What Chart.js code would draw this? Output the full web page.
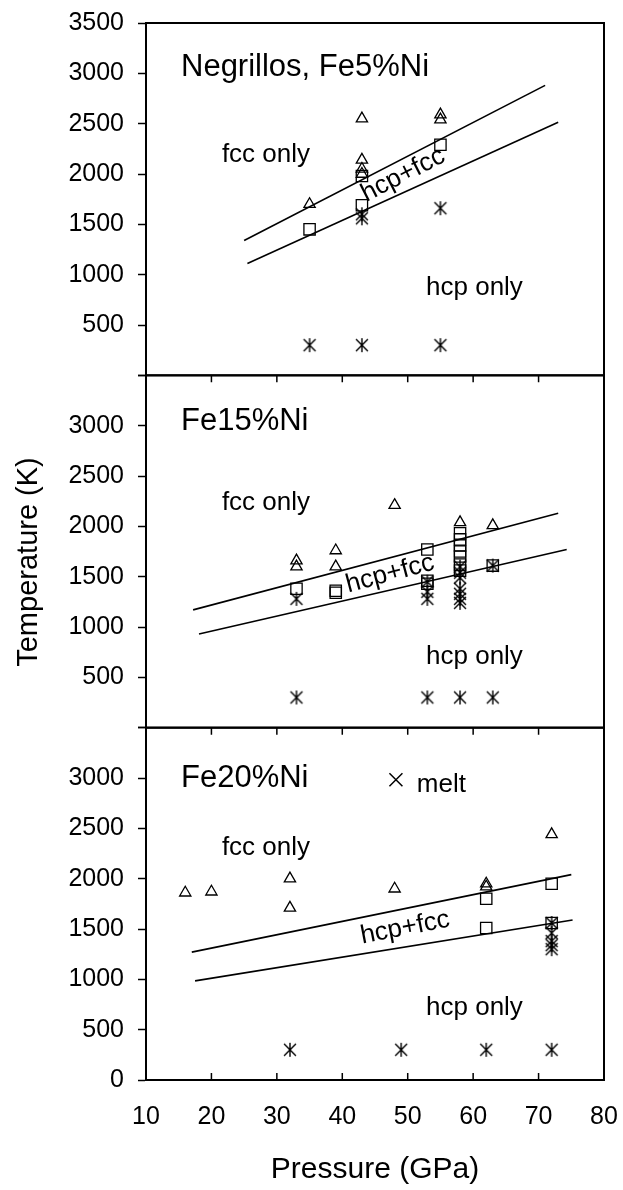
<!DOCTYPE html>
<html>
<head>
<meta charset="utf-8">
<script src="https://cdn.jsdelivr.net/npm/chart.js@4"></script>
<style>
html, body { margin: 0; padding: 0; background: #fff; }
#wrap { width: 623px; height: 1190px; position: relative; }
</style>
</head>
<body>
<div id="wrap"><canvas id="chart"></canvas></div>
<script>
// Negrillos, Fe5%Ni
const fcc5P = [35, 43, 43, 43, 43, 55, 55];
const fcc5T = [1700, 2550, 2140, 2050, 2000, 2590, 2540];
const mix5P = [35, 43, 43, 55];
const mix5T = [1450, 1980, 1690, 2290];
const hcp5P = [35, 43, 43, 43, 55, 55];
const hcp5T = [300, 1600, 1560, 300, 1660, 300];
const upper5P = [25, 71];
const upper5T = [1340, 2880];
const lower5P = [25.5, 73];
const lower5T = [1110, 2515];

// Fe15%Ni
const fcc15P = [33, 33, 39, 39, 48, 58, 63];
const fcc15T = [1660, 1600, 1760, 1600, 2210, 2040, 2010];
const mix15P = [33, 39, 39, 53, 53, 53, 58, 58, 58, 58, 58, 58, 58, 63];
const mix15T = [1380, 1360, 1340, 1770, 1460, 1430, 1930, 1870, 1810, 1750, 1700, 1620, 1560, 1610];
const hcp15P = [33, 33, 53, 53, 53, 53, 58, 58, 58, 58, 58, 58, 58, 58, 63, 63];
const hcp15T = [1280, 300, 1450, 1350, 1280, 300, 1600, 1540, 1490, 1380, 1330, 1280, 1240, 300, 1610, 300];
const upper15P = [17.2, 73];
const upper15T = [1170, 2130];
const lower15P = [18.1, 74.3];
const lower15T = [930, 1770];

// Fe20%Ni
const fcc20P = [16, 20, 32, 32, 48, 62, 62, 72];
const fcc20T = [1860, 1870, 2000, 1710, 1900, 1950, 1920, 2440];
const mix20P = [62, 62, 72, 72];
const mix20T = [1800, 1510, 1950, 1560];
const hcp20P = [32, 49, 62, 72, 72, 72, 72, 72, 72];
const hcp20T = [300, 300, 300, 1560, 1460, 1380, 1340, 1300, 300];
const upper20P = [17, 75];
const upper20T = [1270, 2040];
const lower20P = [17.5, 75.2];
const lower20T = [985, 1590];

const xTicks = [10, 20, 30, 40, 50, 60, 70, 80];
const y1Labels = [500, 1000, 1500, 2000, 2500, 3000, 3500];
const y2Labels = [500, 1000, 1500, 2000, 2500, 3000];
const y3Labels = [0, 500, 1000, 1500, 2000, 2500, 3000];

const FONT = 'Arial, "Liberation Sans", Helvetica, sans-serif';
Chart.defaults.color = '#000';
Chart.defaults.font.family = FONT;

function pts(P, T) { return P.map((p, i) => ({x: p, y: T[i]})); }

function makeAsterisk(size) {
  const c = document.createElement('canvas');
  c.width = size; c.height = size;
  const g = c.getContext('2d');
  const h = size / 2, r = size / 2 - 1;
  g.strokeStyle = '#000';
  g.lineWidth = 1.4;
  g.beginPath();
  g.moveTo(h, h - r); g.lineTo(h, h + r);
  g.moveTo(h - r * 0.85, h - r * 0.85); g.lineTo(h + r * 0.85, h + r * 0.85);
  g.moveTo(h + r * 0.85, h - r * 0.85); g.lineTo(h - r * 0.85, h + r * 0.85);
  g.stroke();
  return c;
}
const asterisk = makeAsterisk(16);

function markers(P, T, axis, style, r) {
  return {
    data: pts(P, T), yAxisID: axis, showLine: false,
    pointStyle: style, pointRadius: r, pointHoverRadius: r,
    pointBorderColor: '#000', pointBackgroundColor: 'rgba(0,0,0,0)', pointBorderWidth: 1.3
  };
}
function boundary(P, T, axis) {
  return {
    data: pts(P, T), yAxisID: axis, showLine: true,
    borderColor: '#000', borderWidth: 1.6, pointRadius: 0, fill: false
  };
}

const datasets = [
  boundary(upper5P, upper5T, 'y1'), boundary(lower5P, lower5T, 'y1'),
  markers(fcc5P, fcc5T, 'y1', 'triangle', 6.5),
  markers(mix5P, mix5T, 'y1', 'rect', 8),
  markers(hcp5P, hcp5T, 'y1', asterisk, 7),
  boundary(upper15P, upper15T, 'y2'), boundary(lower15P, lower15T, 'y2'),
  markers(fcc15P, fcc15T, 'y2', 'triangle', 6.5),
  markers(mix15P, mix15T, 'y2', 'rect', 8),
  markers(hcp15P, hcp15T, 'y2', asterisk, 7),
  boundary(upper20P, upper20T, 'y3'), boundary(lower20P, lower20T, 'y3'),
  markers(fcc20P, fcc20T, 'y3', 'triangle', 6.5),
  markers(mix20P, mix20T, 'y3', 'rect', 8),
  markers(hcp20P, hcp20T, 'y3', asterisk, 7)
];

// text placed in data units of each panel
const notes = [
  {axis: 'y1', text: 'Negrillos, Fe5%Ni', x: 15.35, y: 2973, size: 31},
  {axis: 'y1', text: 'fcc only', x: 21.6, y: 2118, size: 26},
  {axis: 'y1', text: 'hcp only', x: 52.8, y: 795, size: 26},
  {axis: 'y1', text: 'hcp+fcc', x: 49.3, y: 1990, size: 26, angle: -27},
  {axis: 'y2', text: 'Fe15%Ni', x: 15.35, y: 2953, size: 31},
  {axis: 'y2', text: 'fcc only', x: 21.6, y: 2158, size: 26},
  {axis: 'y2', text: 'hcp only', x: 52.8, y: 636, size: 26},
  {axis: 'y2', text: 'hcp+fcc', x: 47.3, y: 1528, size: 26, angle: -15},
  {axis: 'y3', text: 'Fe20%Ni', x: 15.35, y: 2913, size: 31},
  {axis: 'y3', text: 'fcc only', x: 21.6, y: 2237, size: 26},
  {axis: 'y3', text: 'hcp only', x: 52.8, y: 646, size: 26},
  {axis: 'y3', text: 'hcp+fcc', x: 49.6, y: 1511, size: 26, angle: -11},
  {axis: 'y3', text: 'melt', x: 51.4, y: 2864, size: 26}
];

const panelPlugin = {
  id: 'panels',
  afterDatasetsDraw(chart) {
    const {ctx, chartArea: a, scales} = chart;
    const x = scales.x;
    ctx.save();
    ctx.strokeStyle = '#000';
    ['y1', 'y2', 'y3'].forEach((id, k) => {
      const s = scales[id];
      ctx.lineWidth = 2;
      ctx.strokeRect(a.left, s.top, a.right - a.left, s.bottom - s.top);
      ctx.lineWidth = 1.5;
      ctx.beginPath();
      xTicks.slice(1, -1).forEach(v => {
        const px = x.getPixelForValue(v);
        ctx.moveTo(px, s.bottom);
        ctx.lineTo(px, k < 2 ? s.bottom + 7 : s.bottom - 7);
      });
      ctx.stroke();
    });
    ctx.fillStyle = '#000';
    notes.forEach(n => {
      const px = x.getPixelForValue(n.x);
      const py = scales[n.axis].getPixelForValue(n.y);
      ctx.font = n.size + 'px ' + FONT;
      if (n.angle) {
        ctx.save();
        ctx.translate(px, py);
        ctx.rotate(n.angle * Math.PI / 180);
        ctx.textAlign = 'center';
        ctx.textBaseline = 'middle';
        ctx.fillText(n.text, 0, 0);
        ctx.restore();
      } else {
        ctx.textAlign = 'left';
        ctx.textBaseline = 'alphabetic';
        ctx.fillText(n.text, px, py);
      }
    });
    // melt key symbol
    const mx = x.getPixelForValue(48.2), my = scales.y3.getPixelForValue(2983);
    ctx.lineWidth = 1.5;
    ctx.beginPath();
    ctx.moveTo(mx - 6.5, my - 6.5); ctx.lineTo(mx + 6.5, my + 6.5);
    ctx.moveTo(mx + 6.5, my - 6.5); ctx.lineTo(mx - 6.5, my + 6.5);
    ctx.stroke();
    // y axis title
    ctx.save();
    ctx.translate(28.5, 562);
    ctx.rotate(-Math.PI / 2);
    ctx.font = '29px ' + FONT;
    ctx.textAlign = 'center';
    ctx.textBaseline = 'middle';
    ctx.fillText('Temperature (K)', 0, 0);
    ctx.restore();
    ctx.restore();
  }
};

function yScale(labels, weight) {
  return {
    type: 'linear', position: 'left', stack: 'temp', stackWeight: 1, weight: weight,
    min: 0, max: 3500,
    border: {display: true, color: '#000', width: 2},
    grid: {drawOnChartArea: false, drawTicks: true, tickLength: 8, tickColor: '#000', tickWidth: 1.5},
    ticks: {
      stepSize: 500, autoSkip: false, padding: 14, font: {size: 25},
      callback: v => labels.includes(v) ? String(v) : ''
    },
    afterFit: s => { s.width = 146; s.paddingTop = 0; s.paddingBottom = 0; }
  };
}

new Chart(document.getElementById('chart'), {
  type: 'scatter',
  data: {datasets: datasets},
  options: {
    responsive: true,
    maintainAspectRatio: false,
    animation: false,
    layout: {padding: {top: 23, right: 19, left: 0, bottom: 0}},
    plugins: {legend: {display: false}, tooltip: {enabled: false}},
    scales: {
      x: {
        type: 'linear', min: 10, max: 80,
        border: {display: true, color: '#000', width: 2},
        grid: {display: true, drawOnChartArea: false, drawTicks: false},
        ticks: {stepSize: 10, padding: 22, font: {size: 25}, autoSkip: false},
        title: {display: true, text: 'Pressure (GPa)', font: {size: 30}, padding: {top: 0, bottom: 2}},
        afterFit: s => { s.height = 110; s.paddingLeft = 0; s.paddingRight = 0; }
      },
      y1: yScale(y1Labels, 3),
      y2: yScale(y2Labels, 2),
      y3: yScale(y3Labels, 1)
    }
  },
  plugins: [panelPlugin]
});
</script>
</body>
</html>
